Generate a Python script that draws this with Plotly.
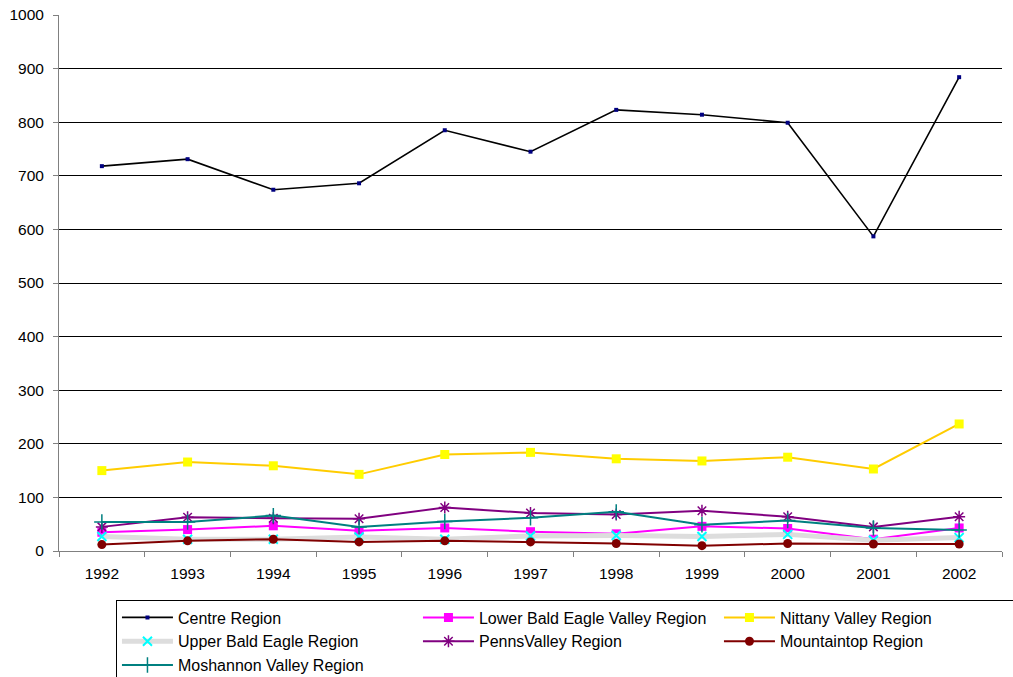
import plotly.graph_objects as go

years = ["1992", "1993", "1994", "1995", "1996", "1997", "1998", "1999", "2000", "2001", "2002"]

centre = [718, 731, 674, 686, 785, 745, 823, 814, 799, 587, 884]
lower_bald_eagle = [35, 40, 47, 38, 43, 36, 32, 46, 42, 22, 43]
nittany = [150, 166, 159, 143, 180, 184, 172, 168, 175, 153, 237]
upper_bald_eagle = [27, 22, 22, 26, 22, 28, 29, 27, 31, 20, 25]
penns_valley = [45, 63, 61, 60, 81, 71, 68, 75, 64, 45, 64]
mountaintop = [12, 19, 22, 17, 19, 17, 14, 10, 14, 13, 13]
moshannon = [54, 54, 66, 45, 55, 62, 73, 49, 57, 43, 39]

series = [
    ("Centre Region", centre, dict(color="black", width=1.6), dict(symbol="square", size=4, color="#000080")),
    ("Lower Bald Eagle Valley Region", lower_bald_eagle, dict(color="#FF00FF", width=2), dict(symbol="square", size=9, color="#FF00FF")),
    ("Nittany Valley Region", nittany, dict(color="#FFCC00", width=2), dict(symbol="square", size=9, color="#FFFF00")),
    ("Upper Bald Eagle Region", upper_bald_eagle, dict(color="#DDDDDD", width=5), dict(symbol="x-thin-open", size=9, color="#00FFFF", line=dict(color="#00FFFF", width=2))),
    ("PennsValley Region", penns_valley, dict(color="#800080", width=2), dict(symbol="asterisk-open", size=10, color="#800080", line=dict(color="#800080", width=1.5))),
    ("Mountaintop Region", mountaintop, dict(color="#800000", width=2), dict(symbol="circle", size=9, color="#800000")),
    ("Moshannon Valley Region", moshannon, dict(color="#008080", width=2), dict(symbol="cross-thin-open", size=11, color="#008080", line=dict(color="#008080", width=1.5))),
]

fig = go.Figure()
for name, vals, line, marker in series:
    fig.add_trace(go.Scatter(x=years, y=vals, name=name, mode="lines+markers", line=line, marker=marker))

fig.update_layout(
    width=1013, height=677,
    margin=dict(l=59, r=11, t=15, b=126, autoexpand=False),
    paper_bgcolor="white", plot_bgcolor="white",
    font=dict(family="Liberation Sans, Arial, sans-serif", size=15.5, color="black"),
    legend=dict(
        orientation="h", x=0.0604, xanchor="left", y=-0.0905, yanchor="top",
        bordercolor="black", borderwidth=1, entrywidth=235, entrywidthmode="pixels",
        font=dict(size=16), tracegroupgap=0, itemwidth=51,
    ),
    showlegend=True,
)
fig.update_xaxes(
    type="category", range=[-0.5, 10.5], tickson="boundaries",
    showline=True, linecolor="#808080", linewidth=1,
    ticks="outside", ticklen=5, tickcolor="#808080", ticklabelstandoff=8,
    showgrid=False, zeroline=False,
)
fig.update_yaxes(
    range=[0, 1000], dtick=100, tick0=0,
    showline=True, linecolor="#808080", linewidth=1,
    ticks="outside", ticklen=5, tickcolor="#808080", ticklabelstandoff=6,
    showgrid=True, gridcolor="black", gridwidth=1, zeroline=False,
)

fig.write_html("out.html")
